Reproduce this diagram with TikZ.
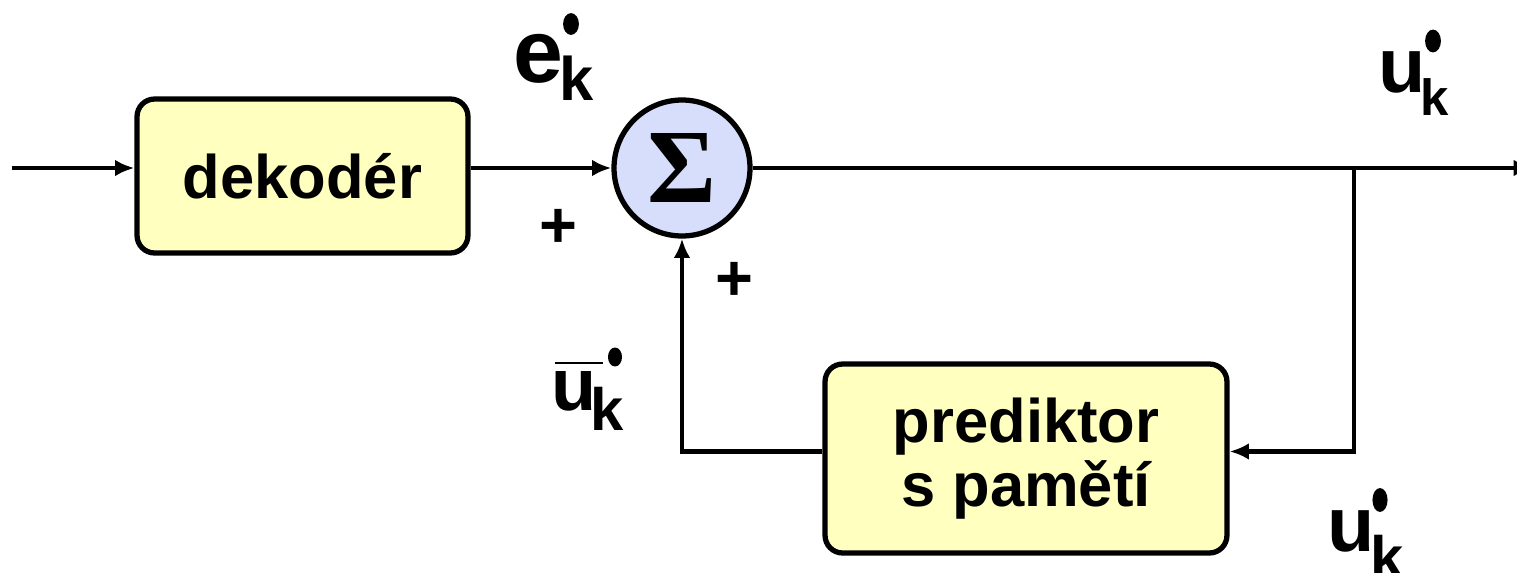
\documentclass[tikz,border=0pt]{standalone}
\usepackage{fontspec}
\setmainfont{Liberation Sans}
\newfontfamily\serifb{Liberation Serif}
\usetikzlibrary{arrows.meta,calc}
\definecolor{boxyellow}{RGB}{255,255,192}
\definecolor{sumblue}{RGB}{214,222,252}
\begin{document}
\begin{tikzpicture}[x=0.02cm,y=-0.02cm,
  blk/.style={draw, line width=3pt, rounded corners=10pt, fill=boxyellow,
    font=\fontsize{35}{36}\selectfont\bfseries, align=center, inner sep=0pt},
  sumnode/.style={draw, circle, line width=3pt, fill=sumblue, inner sep=0pt,
    minimum size=2.72cm, font=\fontsize{60}{60}\serifb\bfseries\selectfont},
  sig/.style={line width=2.6pt, -{Latex[length=11pt,width=9.5pt]}},
  lbl/.style={inner sep=0pt, anchor=base west},
  plus/.style={inner sep=0pt, font=\fontsize{37}{37}\selectfont\bfseries},
  dotmark/.style={fill=black}]
\useasboundingbox (0,0) rectangle (1517,572);

% blocks
\node[blk, minimum width=6.62cm, minimum height=3.08cm] (dek) at (302.5,176) {dekodér};
\node[sumnode] (sum) at (682,168) {\raisebox{-2.5pt}{Σ}};
\node[blk, minimum width=8.04cm, minimum height=3.78cm] (pred) at (1026,458.5) {prediktor\\s pamětí};

% connectors
\coordinate (in) at (12,168);
\coordinate (out) at (1533,168);
\coordinate (br) at (1354,168);
\draw[sig] (in) -- (in -| dek.west);
\draw[sig] (dek.east |- sum.west) -- (sum.west);
\draw[sig] (sum.east) -- (out);
\draw[sig] (br) |- ([yshift=4pt]pred.east);
\draw[sig] ([yshift=4pt]pred.west) -| (sum.south);

% plus signs
\node[plus] (p1) at (558,228) {+};
\node[plus] (p2) at (734,281) {+};

% label e_k (top middle)
\node[lbl, font=\fontsize{51}{51}\selectfont\bfseries] (e1) at (513,82) {e};
\node[lbl, font=\fontsize{35}{35}\selectfont\bfseries] (k1) at (559,100) {k};
\fill[dotmark] (571,24) ellipse [x radius=4.5pt, y radius=6.2pt];

% label u_k (top right)
\node[lbl, font=\fontsize{44}{44}\selectfont\bfseries] (u2) at (1378,92) {u};
\node[lbl, font=\fontsize{29}{29}\selectfont\bfseries] (k2) at (1420,115) {k};
\fill[dotmark] (1433,41) ellipse [x radius=4.5pt, y radius=6.5pt];

% label bar u_k (left of feedback)
\node[lbl, font=\fontsize{42}{42}\selectfont\bfseries] (u3) at (551,410) {u};
\node[lbl, font=\fontsize{34}{34}\selectfont\bfseries] (k3) at (590,430) {k};
\draw[line width=1.2pt] (555,363) -- (603,363);
\fill[dotmark] (615,357) ellipse [x radius=4pt, y radius=5.4pt];

% label u_k (bottom right)
\node[lbl, font=\fontsize{44}{44}\selectfont\bfseries] (u4) at (1327,551) {u};
\node[lbl, font=\fontsize{34}{34}\selectfont\bfseries] (k4) at (1370,578) {k};
\fill[dotmark] (1380,500) ellipse [x radius=4.3pt, y radius=6.8pt];
\end{tikzpicture}
\end{document}
